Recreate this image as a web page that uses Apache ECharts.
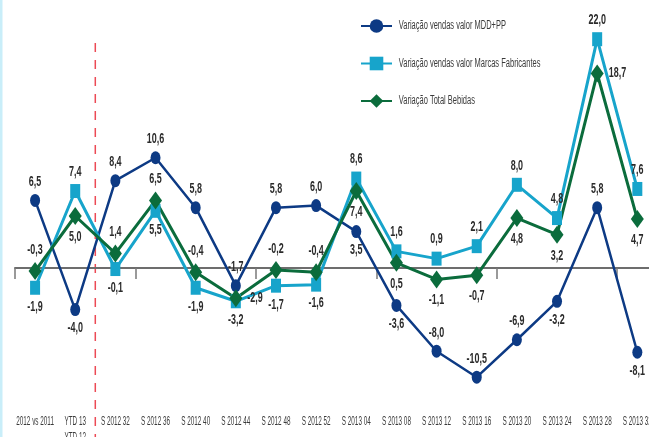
<!DOCTYPE html>
<html>
<head>
<meta charset="utf-8">
<script src="https://cdn.jsdelivr.net/npm/echarts@6/dist/echarts.min.js"></script>
<style>
  html, body { margin: 0; padding: 0; background: #fff; }
  #chart { width: 649px; height: 437px; }
</style>
</head>
<body>
<div id="chart"></div>
<script>
const categories = ["2012 vs 2011", "YTD 13\nYTD 12", "S 2012 32", "S 2012 36", "S 2012 40", "S 2012 44",
  "S 2012 48", "S 2012 52", "S 2013 04", "S 2013 08", "S 2013 12", "S 2013 16", "S 2013 20",
  "S 2013 24", "S 2013 28", "S 2013 32"];

const mddValues = [6.5, -4.0, 8.4, 10.6, 5.8, -1.7, 5.8, 6.0, 3.5, -3.6, -8.0, -10.5, -6.9, -3.2, 5.8, -8.1];
const marcasValues = [-1.9, 7.4, -0.1, 5.5, -1.9, -3.2, -1.7, -1.6, 8.6, 1.6, 0.9, 2.1, 8.0, 4.8, 22.0, 7.6];
const totalValues = [-0.3, 5.0, 1.4, 6.5, -0.4, -2.9, -0.2, -0.4, 7.4, 0.5, -1.1, -0.7, 4.8, 3.2, 18.7, 4.7];

// where each value label sits
const mddLabelPos = ["top", "bottom", "top", "top", "top", "top", "top", "top", "bottom", "bottom", "top", "top", "top", "bottom", "top", "bottom"];
const marcasLabelPos = ["bottom", "top", "bottom", "bottom", "bottom", "bottom", "bottom", "bottom", "top", "top", "top", "top", "top", "top", "top", "top"];
const totalLabelPos = ["top", "bottom", "top", "top", "top", "right", "top", "top", "bottom", "bottom", "bottom", "bottom", "bottom", "bottom", "right", "bottom"];

const FONT = '"Liberation Sans", Arial, sans-serif';
// the original uses a very condensed face; no such font here, so texts get squeezed
// horizontally afterwards (keyed by font size)
const squeezeBySize = { 14: 0.64, 12: 0.53, 12.5: 0.6 };

const chart = echarts.init(document.getElementById("chart"));

function fmt(v) {
  return v.toFixed(1).replace(".", ",");
}

function makeSerie(name, values, positions, color, symbol, symbolSize, width) {
  return {
    name: name,
    type: "line",
    xAxisIndex: 0,
    data: values.map((v, i) => ({
      value: v,
      label: { position: positions[i] },
    })),
    symbol: symbol,
    symbolSize: symbolSize,
    showAllSymbol: true,
    lineStyle: { color: color, width: width },
    itemStyle: { color: color },
    label: {
      show: true,
      distance: 5,
      formatter: (p) => fmt(p.value),
      fontFamily: FONT,
      fontSize: 14,
      fontWeight: "bold",
      color: "#2b2b2b",
    },
    emphasis: { disabled: true },
    animation: false,
  };
}

const chartOption = {
  animation: false,
  grid: {
    left: 15,
    top: 18.4,
    width: 642.4,
    height: 374.4,
    containLabel: false,
    outerBoundsMode: "none",
  },
  legend: {
    orient: "vertical",
    left: 355,
    top: 12.5,
    itemWidth: 31,
    itemHeight: 17,
    itemGap: 20.5,
    data: ["Variação vendas valor MDD+PP", "Variação vendas valor Marcas Fabricantes", "Variação Total Bebidas"],
    textStyle: {
      fontFamily: FONT,
      fontSize: 12.5,
      lineHeight: 17,
      color: "#3a3a3a",
      padding: [0, 0, 0, 3],
    },
  },
  xAxis: [
    {
      type: "category",
      data: categories,
      position: "bottom",
      axisLine: { onZero: true, lineStyle: { color: "#6d6d6d", width: 2 } },
      axisTick: { show: true, length: 11, inside: false, lineStyle: { color: "#7a7a7a", width: 1.5 } },
      axisLabel: { show: false },
      splitLine: { show: false },
    },
    {
      type: "category",
      data: categories,
      position: "bottom",
      axisLine: { show: false, onZero: false },
      axisTick: { show: false },
      axisLabel: {
        show: true,
        interval: 0,
        margin: 21,
        fontFamily: FONT,
        fontSize: 12,
        lineHeight: 16,
        color: "#3a3a3a",
      },
      splitLine: { show: false },
    },
  ],
  yAxis: {
    type: "value",
    min: -12,
    max: 24,
    show: false,
    splitLine: { show: false },
  },
  series: [
    makeSerie("Variação vendas valor MDD+PP", mddValues, mddLabelPos, "#0d3a84", "circle", [10, 13], 2.5),
    makeSerie("Variação vendas valor Marcas Fabricantes", marcasValues, marcasLabelPos, "#17a4cb", "rect", [10, 14], 3),
    makeSerie("Variação Total Bebidas", totalValues, totalLabelPos, "#0b6c3c", "diamond", [13, 18], 3),
  ],
};

chart.setOption(chartOption);

// red dashed divider between YTD and the weekly series, plus the thin left strip
const c0 = chart.convertToPixel({ xAxisIndex: 0 }, categories[1]);
const c1 = chart.convertToPixel({ xAxisIndex: 0 }, categories[2]);
const dividerX = (c0 + c1) / 2;
chart.setOption({
  graphic: [
    {
      type: "rect",
      shape: { x: 0, y: 0, width: 2.5, height: 437 },
      style: { fill: "#c9eef9" },
      silent: true,
    },
    {
      type: "line",
      shape: { x1: dividerX, y1: 43, x2: dividerX, y2: 437 },
      style: { stroke: "#ec4a55", lineWidth: 1.5, lineDash: [9, 8] },
      silent: true,
    },
  ],
});

function squeezeText(textEl, host) {
  const st = textEl.style || {};
  const s = squeezeBySize[st.fontSize];
  if (!s) return;
  // scale around the text's own anchor point
  textEl.originX = st.x || 0;
  textEl.originY = st.y || 0;
  textEl.scaleX = s;
  textEl.markRedraw();
  if (host) host.markRedraw();
}

function walk(el) {
  if (el.type === "text") squeezeText(el, null);
  const tc = el.getTextContent && el.getTextContent();
  if (tc) squeezeText(tc, el);
  if (el.isGroup) el.eachChild(walk);
}

chart.getZr().storage.getRoots().forEach(walk);
chart.getZr().refresh();

window.addEventListener("resize", () => {
  chart.resize();
});
</script>
</body>
</html>
